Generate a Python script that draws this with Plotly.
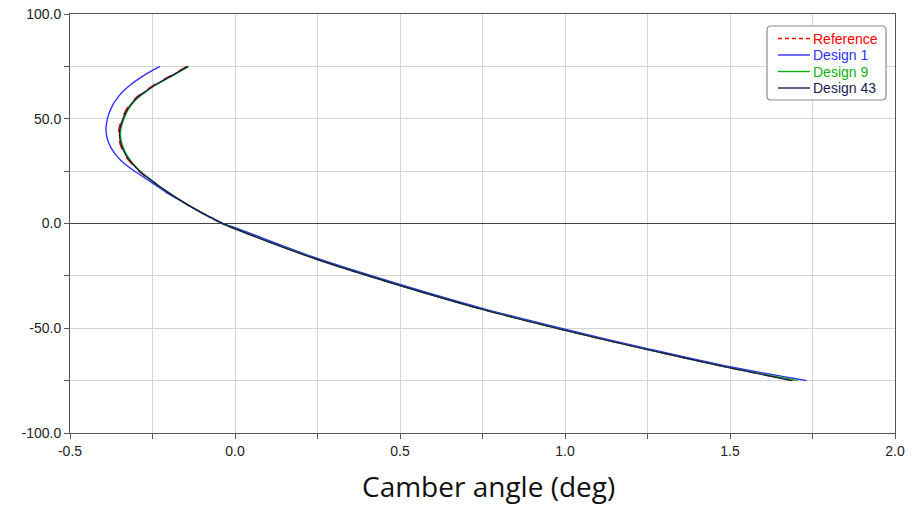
import plotly.graph_objects as go

# Data (camber angle in deg vs wheel travel)
y_d43 = [75, 72, 69, 66, 63, 60, 57, 54, 51, 48, 45, 42, 39, 36, 33, 30, 27, 24, 21, 18, 15, 12, 9, 6, 3, 0,
         -2.5, -17.2, -29.6, -41.0, -51.0, -60.2, -68.9, -75]
x_d43 = [-0.143, -0.176, -0.210, -0.244, -0.272, -0.297, -0.315, -0.328, -0.337, -0.344, -0.349, -0.350, -0.347,
         -0.341, -0.332, -0.319, -0.302, -0.282, -0.257, -0.232, -0.204, -0.175, -0.144, -0.111, -0.075, -0.038,
         0.0, 0.25, 0.5, 0.75, 1.0, 1.25, 1.5, 1.687]

y_ref = y_d43
x_ref = [-0.146, -0.179, -0.213, -0.247, -0.275, -0.300, -0.318, -0.331, -0.340, -0.347, -0.352, -0.353, -0.350,
         -0.344, -0.335, -0.322, -0.304, -0.284, -0.259, -0.233, -0.205, -0.176, -0.145, -0.111, -0.075, -0.038,
         0.0, 0.25, 0.5, 0.75, 1.0, 1.25, 1.5, 1.692]

y_d9 = y_d43
x_d9 = [-0.140, -0.173, -0.207, -0.241, -0.269, -0.294, -0.312, -0.325, -0.334, -0.341, -0.346, -0.347, -0.344,
        -0.338, -0.329, -0.316, -0.300, -0.280, -0.255, -0.231, -0.203, -0.174, -0.143, -0.110, -0.074, -0.037,
        0.001, 0.251, 0.501, 0.751, 1.001, 1.251, 1.501, 1.705]

y_d1 = [75, 72, 69, 66, 63, 60, 57, 54, 51, 48, 45, 42, 39, 36, 33, 30, 27, 24, 21, 18, 15, 12, 9, 6, 3, 0,
        -2.0, -16.7, -29.1, -40.5, -50.5, -59.7, -68.4, -75]
x_d1 = [-0.227, -0.262, -0.292, -0.318, -0.340, -0.356, -0.369, -0.378, -0.385, -0.389, -0.391, -0.389, -0.384,
        -0.375, -0.362, -0.345, -0.322, -0.295, -0.266, -0.238, -0.210, -0.177, -0.145, -0.112, -0.076, -0.039,
        0.0, 0.25, 0.5, 0.75, 1.0, 1.25, 1.5, 1.732]

x_ticks = [-0.5, -0.25, 0.0, 0.25, 0.5, 0.75, 1.0, 1.25, 1.5, 1.75, 2.0]
x_ticktext = ["-0.5", "", "0.0", "", "0.5", "", "1.0", "", "1.5", "", "2.0"]
y_ticks = [-100, -75, -50, -25, 0, 25, 50, 75, 100]
y_ticktext = ["-100.0", "", "-50.0", "", "0.0", "", "50.0", "", "100.0"]

series_names = ["Reference", "Design 1", "Design 9", "Design 43"]
series_colors = ["#ff0000", "#3030ff", "#10b010", "#1c1c50"]
series_dash = ["dash", "solid", "solid", "solid"]
series_x = [x_ref, x_d1, x_d9, x_d43]
series_y = [y_ref, y_d1, y_d9, y_d43]

# plot area in pixels (for the hand-drawn legend)
L, R, T, B = 70, 895, 14, 433
def px(xp):
    return (xp - L) / (R - L)
def py(yp):
    return (B - yp) / (B - T)

fig = go.Figure()
for i in range(4):
    fig.add_trace(go.Scatter(
        x=series_x[i], y=series_y[i], mode="lines", name=series_names[i],
        line=dict(color=series_colors[i], width=1.4, dash=series_dash[i],
                  shape="spline", smoothing=0.8),
        showlegend=False,
    ))

axis_common = dict(
    showgrid=True, gridcolor="#d4d4d4", gridwidth=1,
    showline=True, linecolor="#555555", linewidth=1, mirror=True,
    ticks="outside", ticklen=5, tickcolor="#555555", automargin=False,
    tickfont=dict(family="Liberation Sans, Arial, sans-serif", size=14, color="#222222"),
)

fig.update_xaxes(range=[-0.5, 2.0], tickvals=x_ticks, ticktext=x_ticktext,
                 zeroline=False, **axis_common)
fig.update_yaxes(range=[-100, 100], tickvals=y_ticks, ticktext=y_ticktext,
                 zeroline=True, zerolinecolor="#444444", zerolinewidth=1, **axis_common)

fig.add_annotation(text="Camber angle (deg)", xref="paper", yref="paper",
                   x=px(488), y=py(486), xanchor="center", yanchor="middle",
                   showarrow=False,
                   font=dict(family="Open Sans, Noto Sans, sans-serif", size=28, color="#111111"))

# hand-drawn legend (compact, rounded box)
bx0, bx1, by0, by1, r = 767, 886, 26, 100, 4
rx, ry = r / (R - L), r / (B - T)
x0, x1, y0, y1 = px(bx0), px(bx1), py(by1), py(by0)
path = (f"M {x0+rx},{y1} L {x1-rx},{y1} Q {x1},{y1} {x1},{y1-ry} "
        f"L {x1},{y0+ry} Q {x1},{y0} {x1-rx},{y0} L {x0+rx},{y0} "
        f"Q {x0},{y0} {x0},{y0+ry} L {x0},{y1-ry} Q {x0},{y1} {x0+rx},{y1} Z")
fig.add_shape(type="path", path=path, xref="paper", yref="paper",
              line=dict(color="#8c8c8c", width=1.2), fillcolor="white", layer="above")
row_y = [38.5, 55, 71.5, 88]
for i, name in enumerate(series_names):
    yy = py(row_y[i])
    fig.add_shape(type="line", xref="paper", yref="paper",
                  x0=px(778), x1=px(810), y0=yy, y1=yy, layer="above",
                  line=dict(color=series_colors[i], width=1.4,
                            dash="4px,3px" if series_dash[i] == "dash" else "solid"))
    fig.add_annotation(text=name, xref="paper", yref="paper", x=px(811), y=yy,
                       xanchor="left", yanchor="middle", showarrow=False,
                       font=dict(family="Liberation Sans, Arial, sans-serif", size=14,
                                 color=series_colors[i]))

fig.update_layout(
    width=914, height=505,
    margin=dict(l=L, r=914 - R, t=T, b=505 - B),
    paper_bgcolor="white", plot_bgcolor="white",
    showlegend=False,
)

fig.write_html("out.html")
